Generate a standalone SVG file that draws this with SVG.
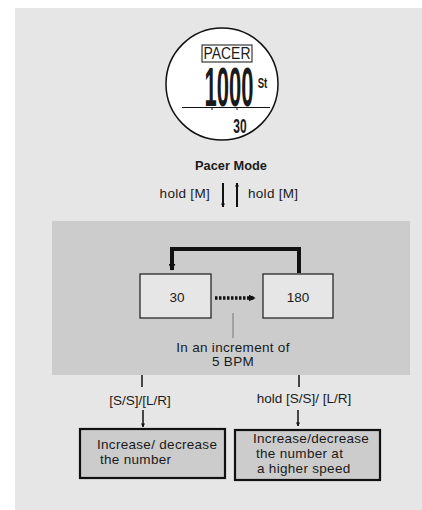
<svg xmlns="http://www.w3.org/2000/svg" width="422" height="510" viewBox="0 0 422 510">
<defs>
<style>
text{font-family:"Liberation Sans",Arial,sans-serif;fill:#1a1a1a}
.t{font-size:13.5px;letter-spacing:0.3px}
.lbl{font-size:13.5px;text-anchor:middle}
.box{fill:#e6e6e6;stroke:#1a1a1a;stroke-width:1.2}
.box2{fill:#cccccc;stroke:#111;stroke-width:2.2}
.ln{stroke:#111;fill:none}
</style>
<marker id="ah" viewBox="0 0 10 10" refX="9" refY="5" markerWidth="4" markerHeight="4" orient="auto" markerUnits="userSpaceOnUse">
<path d="M0,0 L10,5 L0,10 Z" fill="#111"/>
</marker>
<marker id="ahs" viewBox="0 0 10 10" refX="9" refY="5" markerWidth="7" markerHeight="7" orient="auto" markerUnits="userSpaceOnUse">
<path d="M0,0 L10,5 L0,10 Z" fill="#111"/>
</marker>
</defs>
<rect x="15" y="8" width="407" height="502" fill="#e6e6e6"/>
<rect x="52" y="221" width="358" height="154" fill="#cccccc"/>

<g id="watch">
<circle cx="222" cy="84" r="56" fill="#fff" stroke="#111" stroke-width="1.5"/>
<rect x="202" y="45" width="50" height="17" fill="none" stroke="#111" stroke-width="1"/>
<text x="227" y="59.5" text-anchor="middle" font-size="17" transform="translate(227 0) scale(0.82 1) translate(-227 0)">PACER</text>
<text x="229" y="106" text-anchor="middle" font-size="55" font-weight="bold" transform="translate(229 0) scale(0.4 1) translate(-229 0)">1000</text>
<text x="262.5" y="88" text-anchor="middle" font-size="14" font-weight="bold" transform="translate(262.5 0) scale(0.68 1) translate(-262.5 0)">St</text>
<line x1="182" y1="107.5" x2="270" y2="107.5" stroke="#111" stroke-width="1"/>
<line x1="212" y1="107" x2="212" y2="110" stroke="#111" stroke-width="1"/>
<line x1="237" y1="107" x2="237" y2="110" stroke="#111" stroke-width="1"/>
<text x="240" y="133" text-anchor="middle" font-size="20" font-weight="bold" transform="translate(240 0) scale(0.6 1) translate(-240 0)">30</text>
</g>

<g id="title">
<text x="231" y="170" text-anchor="middle" font-size="12.8" font-weight="bold">Pacer Mode</text>
<text x="210" y="198" text-anchor="end" class="t">hold [M]</text>
<text x="248" y="198" class="t">hold [M]</text>
</g>

<g id="n30">
<rect class="box" x="140" y="274" width="71" height="44"/>
<text x="177" y="302" class="lbl">30</text>
</g>
<g id="n180">
<rect class="box" x="263" y="274" width="70" height="44"/>
<text x="298" y="302" class="lbl">180</text>
</g>
<g id="note">
<text x="233" y="352" class="lbl" letter-spacing="0.3">In an increment of</text>
<text x="233" y="366" class="lbl" letter-spacing="0.3">5 BPM</text>
</g>
<g id="n1">
<rect class="box2" x="80" y="429" width="145" height="49"/>
<text x="97" y="449" class="t">Increase/ decrease</text>
<text x="100" y="464" class="t">the number</text>
</g>
<g id="n2">
<rect class="box2" x="235" y="430" width="145" height="50"/>
<text x="253" y="443" class="t">Increase/decrease</text>
<text x="256" y="458" class="t">the number at</text>
<text x="257" y="473" class="t">a higher speed</text>
</g>

<g id="connectors">
<line class="ln" x1="223" y1="183" x2="223" y2="207" stroke-width="2" marker-end="url(#ah)"/>
<line class="ln" x1="237" y1="207" x2="237" y2="183" stroke-width="2" marker-end="url(#ah)"/>
<polyline class="ln" points="299,273 299,249 172,249 172,270" stroke-width="4" marker-end="url(#ahs)"/>
<line class="ln" x1="215" y1="298" x2="255" y2="298" stroke-width="3.5" stroke-dasharray="2.5,1.5" marker-end="url(#ahs)"/>
<line x1="233" y1="313" x2="233" y2="338" stroke="#777" stroke-width="1"/>
<line class="ln" x1="142" y1="375" x2="142" y2="387" stroke-width="1.5"/>
<line class="ln" x1="299" y1="375" x2="299" y2="387" stroke-width="1.5"/>
<text x="140" y="405" class="lbl">[S/S]/[L/R]</text>
<text x="304" y="403" class="lbl">hold [S/S]/ [L/R]</text>
<line class="ln" x1="143" y1="410" x2="143" y2="427" stroke-width="1.5" marker-end="url(#ah)"/>
<line class="ln" x1="298" y1="410" x2="298" y2="426" stroke-width="1.5" marker-end="url(#ah)"/>
</g>
</svg>
